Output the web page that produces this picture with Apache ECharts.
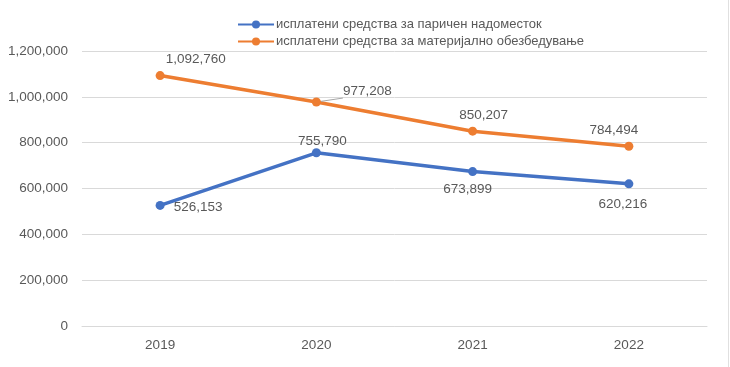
<!DOCTYPE html>
<html>
<head>
<meta charset="utf-8">
<script src="https://cdn.jsdelivr.net/npm/echarts@6/dist/echarts.min.js"></script>
<style>html,body{margin:0;padding:0;background:#fff}#c{width:730px;height:367px}</style>
</head>
<body>
<div id="c"></div>
<script>
const categories = ['2019', '2020', '2021', '2022'];
const seriesNames = ['исплатени средства за паричен надоместок', 'исплатени средства за материјално обезбедување'];
const cashValues = [526153, 755790, 673899, 620216];
const materialValues = [1092760, 977208, 850207, 784494];
const yTicks = { min: 0, max: 1200000, interval: 200000 };

const FONT = 'Liberation Sans';
const TXT = '#595959';
const FS = 13.5;
const fmt = v => v.toLocaleString('en-US');

const cashLabels = [
  { position: 'right', offset: [4, 2] },
  { position: 'top', offset: [6, 5] },
  { position: 'bottom', offset: [-5, 1] },
  { position: 'bottom', offset: [-6, 4] }
];
const materialLabels = [
  { position: 'right', offset: [-4, -16] },
  { position: 'right', offset: [17, -11], line: true },
  { position: 'top', offset: [11, 1] },
  { position: 'top', offset: [-15, 1] }
];

function buildData(values, cfg) {
  return values.map((v, i) => ({
    value: v,
    label: { position: cfg[i].position, offset: cfg[i].offset },
    labelLine: { show: !!cfg[i].line, lineStyle: { color: '#a6a6a6', width: 1 } }
  }));
}

const chart = echarts.init(document.getElementById('c'), null, { renderer: 'canvas' });
chart.setOption({
  animation: false,
  textStyle: { fontFamily: FONT },
  legend: {
    orient: 'vertical',
    left: 232,
    top: 13,
    itemGap: 4,
    itemWidth: 36,
    itemHeight: 10,
    textStyle: { fontFamily: FONT, fontSize: 13, color: TXT, padding: [0, 0, 0, -3] },
    data: seriesNames
  },
  grid: { left: 82, right: 23, top: 51, bottom: 41 },
  xAxis: {
    type: 'category',
    data: categories,
    boundaryGap: true,
    axisLine: { show: true, lineStyle: { color: '#d9d9d9' } },
    axisTick: { show: false },
    axisLabel: { color: TXT, fontSize: FS, fontFamily: FONT, margin: 12 }
  },
  yAxis: {
    type: 'value',
    min: yTicks.min,
    max: yTicks.max,
    interval: yTicks.interval,
    axisLine: { show: false },
    axisTick: { show: false },
    splitLine: { lineStyle: { color: '#d9d9d9', width: 1 } },
    axisLabel: { color: TXT, fontSize: FS, fontFamily: FONT, margin: 14, formatter: v => fmt(v) }
  },
  series: [
    {
      name: seriesNames[0],
      type: 'line',
      data: buildData(cashValues, cashLabels),
      symbol: 'circle',
      symbolSize: 9,
      lineStyle: { color: '#4472C4', width: 3.5 },
      itemStyle: { color: '#4472C4' },
      label: { show: true, color: TXT, fontSize: FS, fontFamily: FONT, formatter: p => fmt(p.value) }
    },
    {
      name: seriesNames[1],
      type: 'line',
      data: buildData(materialValues, materialLabels),
      symbol: 'circle',
      symbolSize: 9,
      lineStyle: { color: '#ED7D31', width: 3.5 },
      itemStyle: { color: '#ED7D31' },
      label: { show: true, color: TXT, fontSize: FS, fontFamily: FONT, formatter: p => fmt(p.value) }
    }
  ],
  graphic: [
    { type: 'line', shape: { x1: 728.5, y1: 0, x2: 728.5, y2: 367 }, style: { stroke: '#e0e0e0', lineWidth: 1 } }
  ]
});
</script>
</body>
</html>
